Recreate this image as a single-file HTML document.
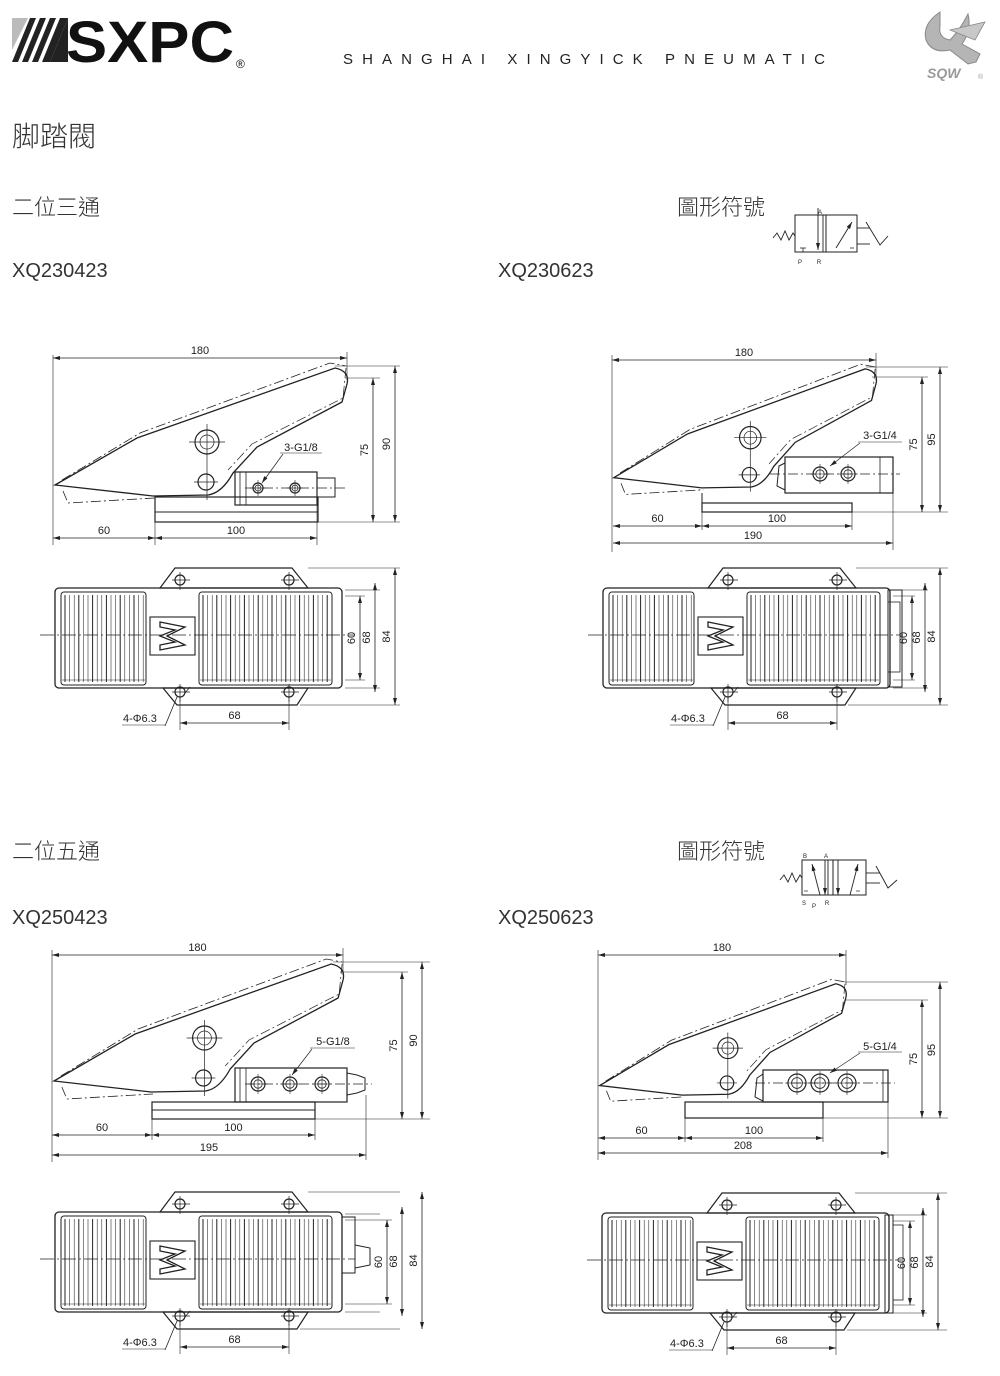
<!DOCTYPE html>
<html><head><meta charset="utf-8">
<style>
html,body{margin:0;padding:0;background:#fff;}
body{width:1000px;height:1376px;overflow:hidden;position:relative;font-family:"Liberation Sans","Noto Sans CJK TC",sans-serif;}
.t{position:absolute;color:#333;white-space:nowrap;}
</style></head><body>
<svg id="s" width="1000" height="1376" viewBox="0 0 1000 1376" style="position:absolute;left:0;top:0"></svg>
<script>
(function(){
let o='';
const C='#222';
function L(x1,y1,x2,y2,w,d){o+=`<line x1="${x1}" y1="${y1}" x2="${x2}" y2="${y2}" stroke="${C}" stroke-width="${w||1}" ${d?'stroke-dasharray="'+d+'"':''}/>`;}
function R(x1,y1,x2,y2,w,rx){o+=`<rect x="${x1}" y="${y1}" width="${x2-x1}" height="${y2-y1}" rx="${rx||0}" fill="none" stroke="${C}" stroke-width="${w||1}"/>`;}
function Ci(x,y,r,w){o+=`<circle cx="${x}" cy="${y}" r="${r}" fill="none" stroke="${C}" stroke-width="${w||1}"/>`;}
function T(x,y,s,txt,rot,anchor){o+=`<text x="${x}" y="${y}" font-size="${s}" fill="#222" font-family="Liberation Sans, sans-serif" text-anchor="${anchor||'middle'}" ${rot?`transform="rotate(-90 ${x} ${y})"`:''}>${txt}</text>`;}
function ah(x,y,dx,dy){const px=-dy,py=dx;o+=`<polygon points="${x},${y} ${x-dx*7+px*2},${y-dy*7+py*2} ${x-dx*7-px*2},${y-dy*7-py*2}" fill="${C}"/>`;}
function hdim(x1,x2,y,lab){L(x1,y,x2,y,0.8);ah(x1,y,-1,0);ah(x2,y,1,0);T((x1+x2)/2,y-4,11,lab);}
function vdim(x,y1,y2,lab){L(x,y1,x,y2,0.8);ah(x,y1,0,-1);ah(x,y2,0,1);T(x-5,(y1+y2)/2,11,lab,1);}
function pedal(X0,Y0,sx,sy){
 o+=`<g transform="translate(${X0-53*sx} ${Y0-366*sy}) scale(${sx} ${sy})">`;
 const ns='vector-effect="non-scaling-stroke"';
 o+=`<path d="M55,485 L137,438 L335,368 Q350,371 347,384 L342,402 L257,447 L233,473 Q222,493 208,495 L153,496 Z" fill="none" stroke="${C}" stroke-width="1.3" ${ns}/>`;
 o+=`<path d="M62,480 L140,433 L330,363 L346,366" fill="none" stroke="${C}" stroke-width="0.8" stroke-dasharray="10,3,2,3" ${ns}/>`;
 o+=`<path d="M346,368 L343,398 L252,444 L228,470" fill="none" stroke="${C}" stroke-width="0.7" stroke-dasharray="10,3,2,3" ${ns}/>`;
 o+=`<path d="M63,491 L68,503 L155,498" fill="none" stroke="${C}" stroke-width="0.8" stroke-dasharray="10,3,2,3" ${ns}/>`;
 o+=`<ellipse cx="207" cy="442" rx="12" ry="12" fill="none" stroke="${C}" stroke-width="1.2" ${ns}/>`;
 o+=`<ellipse cx="207" cy="442" rx="7" ry="7" fill="none" stroke="${C}" stroke-width="0.7" ${ns}/>`;
 o+=`<ellipse cx="206" cy="482" rx="8" ry="8" fill="none" stroke="${C}" stroke-width="1.2" ${ns}/>`;
 o+=`<line x1="207" y1="424" x2="207" y2="500" stroke="${C}" stroke-width="0.7" ${ns}/><line x1="189" y1="442" x2="225" y2="442" stroke="${C}" stroke-width="0.7" ${ns}/><line x1="194" y1="482" x2="218" y2="482" stroke="${C}" stroke-width="0.7" ${ns}/>`;
 o+=`</g>`;
}
function port(x,y,r){Ci(x,y,r,1.2);Ci(x,y,r*0.6,0.8);L(x-r-3,y,x+r+3,y,0.6);L(x,y-r-3,x,y+r+3,0.6);}
function topView(dx,dy){
 o+=`<g transform="translate(${dx} ${dy})">`;
 o+=`<polygon points="160,588 175,568 292,568 308,588" fill="none" stroke="${C}" stroke-width="1.2"/>`;
 o+=`<polygon points="163,688 177,705 297,705 308,688" fill="none" stroke="${C}" stroke-width="1.2"/>`;
 R(55,588,342,688,1.3,4);
 R(61,592,146,685,1,3);R(199,592,332,685,1,3);
 let i=0;
 for(let x=65;x<144;x+=4.6,i++)L(x.toFixed(1),595,x.toFixed(1),682,(i%3==0)?1:0.55);
 i=0;
 for(let x=203;x<330;x+=4.6,i++)L(x.toFixed(1),595,x.toFixed(1),682,(i%3==0)?1:0.55);
 L(62,680,145,680,0.6);L(200,680,331,680,0.6);
 o+=`<rect x="150" y="617" width="45" height="38" fill="#fff" stroke="${C}" stroke-width="1.1"/>`;
 o+=`<path d="M160,622 L185,627 L167,636 L185,645 L160,650 L160,645 L175,642 L160,636 L175,630 L160,627 Z" fill="none" stroke="${C}" stroke-width="1.3"/>`;
 L(40,635,355,635,0.7,'14,3,2,3');
 [[180,580],[289,580],[180,692],[289,692]].forEach(p=>{Ci(p[0],p[1],5,1.2);L(p[0]-8,p[1],p[0]+10,p[1],0.7);L(p[0],p[1]-8,p[0],p[1]+10,0.7);});
 L(177,697,165,726,0.8);L(180,697,180,730,0.6);L(289,697,289,730,0.6);L(185,693,190,687,0.7);
 hdim(180,289,723,'68');
 o+=`<text x="123" y="722" font-size="11" fill="#222" font-family="Liberation Sans, sans-serif">4-Φ6.3</text>`;L(122,725,165,725,0.6);
 L(308,568,400,568,0.6);L(300,705,400,705,0.6);L(345,590,380,590,0.6);L(345,688,380,688,0.6);
 o+=`</g>`;
}
// TL
pedal(53,366,1,1);
R(155,497,318,522,1.2);L(155,512,318,512,1);
R(235,472,317,505,1.2);R(240,472,246,505,0.8);R(317,478,335,497,1);L(245,488,345,488,0.7,'10,3,2,3');
port(258,488,5);port(295,488,5);
T(301,451,11,'3-G1/8');L(280,453,322,453,0.6);L(283,454,262,483,0.7);ah(262,483,-0.55,0.83);
L(53,355,53,545,0.6);L(347,352,347,380,0.6);hdim(53,347,358,'180');
L(335,366,400,366,0.6);L(345,378,380,378,0.6);L(318,522,400,522,0.6);
vdim(373,378,522,'75');vdim(395,366,522,'90');
L(155,498,155,545,0.6);L(317,505,317,545,0.6);
hdim(53,155,538,'60');hdim(155,317,538,'100');
topView(0,0);
L(345,596,365,596,0.6);L(345,680,365,680,0.6);
vdim(360,596,680,'60');vdim(375,583,692,'68');vdim(395,568,705,'84');
// TR
pedal(612,367,0.898,0.93);
R(702,503,852,512,1.2);L(702,493,702,503,1);
R(785,457,893,493,1.2);L(880,457,880,493,0.8);o+=`<path d="M785,463 L779,466 L777,486 L785,490" fill="none" stroke="${C}" stroke-width="1"/>`;
L(770,474,900,474,0.7,'10,3,2,3');
port(820,474,7);port(848,474,7);
T(880,439,11,'3-G1/4');L(858,442,902,442,0.6);L(860,443,830,466,0.7);ah(830,466,-0.8,0.6);
L(612,355,612,552,0.6);L(876,353,876,380,0.6);hdim(612,876,360,'180');
L(866,367,948,367,0.6);L(872,377,928,377,0.6);L(852,512,948,512,0.6);
vdim(922,377,512,'75');vdim(940,367,512,'95');
L(702,512,702,530,0.6);L(852,512,852,530,0.6);L(893,493,893,550,0.6);
hdim(613,702,526,'60');hdim(702,852,526,'100');hdim(613,893,543,'190');
topView(548,0);
R(888,590,902,687,1);R(888,602,900,672,0.8);
L(893,596,915,596,0.6);L(893,680,915,680,0.6);
vdim(912,596,680,'60');vdim(925,583,692,'68');vdim(940,568,705,'84');
// BL
pedal(52,962,0.99,1.0);
R(152,1102,315,1119,1.2);L(152,1110,315,1110,1);
R(235,1068,347,1102,1.2);R(240,1068,246,1102,0.8);
o+=`<path d="M347,1073 L357,1075 L365,1078 L365,1090 L357,1093 L347,1095" fill="none" stroke="${C}" stroke-width="1"/>`;
L(245,1084,372,1084,0.7,'10,3,2,3');
port(258,1084,7);port(290,1084,7);port(322,1084,7);
T(333,1045,11,'5-G1/8');L(310,1048,355,1048,0.6);L(312,1049,292,1075,0.7);ah(292,1075,-0.6,0.8);
L(52,950,52,1162,0.6);L(343,948,343,975,0.6);hdim(52,343,955,'180');
L(333,962,430,962,0.6);L(340,972,408,972,0.6);L(315,1119,430,1119,0.6);
vdim(402,972,1119,'75');vdim(422,962,1119,'90');
L(152,1119,152,1140,0.6);L(315,1119,315,1140,0.6);L(366,1095,366,1160,0.6);
hdim(52,152,1135,'60');hdim(152,315,1135,'100');hdim(52,366,1155,'195');
topView(0,624);
R(342,1217,355,1273,1);o+=`<path d="M355,1245 L370,1248 L370,1265 L355,1268" fill="none" stroke="${C}" stroke-width="1"/>`;
L(345,1220,392,1220,0.6);L(345,1304,392,1304,0.6);
vdim(387,1220,1304,'60');vdim(402,1207,1316,'68');vdim(422,1192,1329,'84');
// BR
pedal(598,982,0.843,0.87);
R(685,1102,823,1118,1.2);
R(763,1070,888,1102,1.2);L(883,1070,883,1102,0.8);o+=`<path d="M763,1074 L757,1078 L755,1097 L763,1101" fill="none" stroke="${C}" stroke-width="1"/>`;
L(755,1083,895,1083,0.7,'10,3,2,3');
port(797,1083,9);port(820,1083,9);port(847,1083,9);
T(880,1050,11,'5-G1/4');L(858,1052,902,1052,0.6);L(860,1053,830,1073,0.7);ah(830,1073,-0.8,0.55);
L(598,950,598,1160,0.6);L(846,950,846,985,0.6);hdim(598,846,955,'180');
L(845,982,948,982,0.6);L(845,1000,928,1000,0.6);L(823,1118,948,1118,0.6);
vdim(922,1000,1118,'75');vdim(940,982,1118,'95');
L(685,1118,685,1142,0.6);L(823,1118,823,1142,0.6);L(888,1102,888,1158,0.6);
hdim(598,685,1138,'60');hdim(685,823,1138,'100');hdim(598,888,1153,'208');
topView(547,625);
R(885,1215,893,1313,1);R(893,1225,903,1300,0.8);
L(893,1221,915,1221,0.6);L(893,1305,915,1305,0.6);
vdim(910,1221,1305,'60');vdim(923,1208,1317,'68');vdim(938,1193,1330,'84');
// symbols
R(795,215,857,252,1);L(826,215,826,252,1);
L(818,208,818,250,0.9);ah(818,250,0,1);L(823,215,823,252,0.9);
L(800,248,806,248,0.8);L(803,248,803,252,0.8);
L(836,248,852,222,0.9);ah(852,222,0.52,-0.85);L(850,248,854,248,0.8);
o+=`<polyline points="773,238 777,233 781,240 785,231 789,240 793,233 795,236" fill="none" stroke="${C}" stroke-width="0.9"/>`;
L(857,228,870,228,0.9);L(857,244,870,244,0.9);o+=`<polyline points="866,222 880,245 888,236" fill="none" stroke="${C}" stroke-width="0.9"/>`;
T(820,214,6,'A');T(800,264,6,'P');T(819,264,6,'R');
R(802,860,866,895,1);L(833,860,833,895,1);
L(812,864,820,895,0.9);ah(812,864,-0.25,-0.97);L(825,860,825,895,0.9);ah(825,895,0,1);L(828,860,828,895,0.9);
L(838,860,838,895,0.9);ah(838,895,0,1);L(850,895,858,864,0.9);ah(858,864,0.25,-0.97);
L(804,891,808,891,0.7);L(856,891,860,891,0.7);
o+=`<polyline points="780,880 784,875 788,882 792,873 796,882 800,875 802,878" fill="none" stroke="${C}" stroke-width="0.9"/>`;
L(866,873,880,873,0.9);L(866,883,880,883,0.9);o+=`<polyline points="876,866 888,888 897,880" fill="none" stroke="${C}" stroke-width="0.9"/>`;
T(805,858,6,'B');T(826,858,6,'A');T(804,905,6,'S');T(814,908,6,'P');T(827,905,6,'R');
// logos
o+=`<polygon points="12,62 30,18 36,18 18,62" fill="#222"/><polygon points="22,62 40,18 46,18 28,62" fill="#222"/><polygon points="32,62 50,18 56,18 38,62" fill="#222"/><polygon points="42,62 60,18 68,18 50,62" fill="#222"/><polygon points="50,62 68,18 68,62" fill="#222"/><polygon points="12,18 28,18 12,50" fill="#bbb"/>`;
o+=`<text x="66" y="62" font-size="58" font-weight="bold" fill="#111" font-family="Liberation Sans, sans-serif" textLength="168" lengthAdjust="spacingAndGlyphs">SXPC</text>`;
o+=`<text x="236" y="68" font-size="12" fill="#111" font-family="Liberation Sans, sans-serif">®</text>`;
o+=`<text x="343" y="64" font-size="15" fill="#222" font-family="Liberation Sans, sans-serif" textLength="482" lengthAdjust="spacing">SHANGHAI XINGYICK PNEUMATIC</text>`;
o+=`<path d="M940,12 Q922,24 926,40 Q932,54 950,50 L968,64 L976,62 L980,54 L962,44 Q972,30 968,14 Q960,30 950,40 Q938,38 940,26 Z" fill="#b5b5b5" stroke="#888" stroke-width="1"/>`;
o+=`<path d="M950,30 L985,22 L975,40 Z" fill="#c8c8c8" stroke="#888" stroke-width="0.8"/>`;
o+=`<text x="927" y="78" font-size="14" font-weight="bold" font-style="italic" fill="#999" font-family="Liberation Sans, sans-serif">SQW</text><text x="978" y="79" font-size="7" fill="#999">®</text>`;
document.getElementById('s').innerHTML=o;
})();
</script>
<div class="t" style="left:12px;top:115px;font-size:28px;font-family:'Liberation Sans','Noto Sans CJK TC',sans-serif;font-weight:300">脚踏閥</div>
<div class="t" style="left:12px;top:190px;font-size:22px;font-family:'Liberation Sans','Noto Sans CJK TC',sans-serif;font-weight:300">二位三通</div>
<div class="t" style="left:12px;top:260px;font-size:20px">XQ230423</div>
<div class="t" style="left:498px;top:260px;font-size:20px">XQ230623</div>
<div class="t" style="left:677px;top:190px;font-size:22px;font-family:'Liberation Sans','Noto Sans CJK TC',sans-serif;font-weight:300">圖形符號</div>
<div class="t" style="left:12px;top:834px;font-size:22px;font-family:'Liberation Sans','Noto Sans CJK TC',sans-serif;font-weight:300">二位五通</div>
<div class="t" style="left:12px;top:907px;font-size:20px">XQ250423</div>
<div class="t" style="left:498px;top:907px;font-size:20px">XQ250623</div>
<div class="t" style="left:677px;top:834px;font-size:22px;font-family:'Liberation Sans','Noto Sans CJK TC',sans-serif;font-weight:300">圖形符號</div>
</body></html>
